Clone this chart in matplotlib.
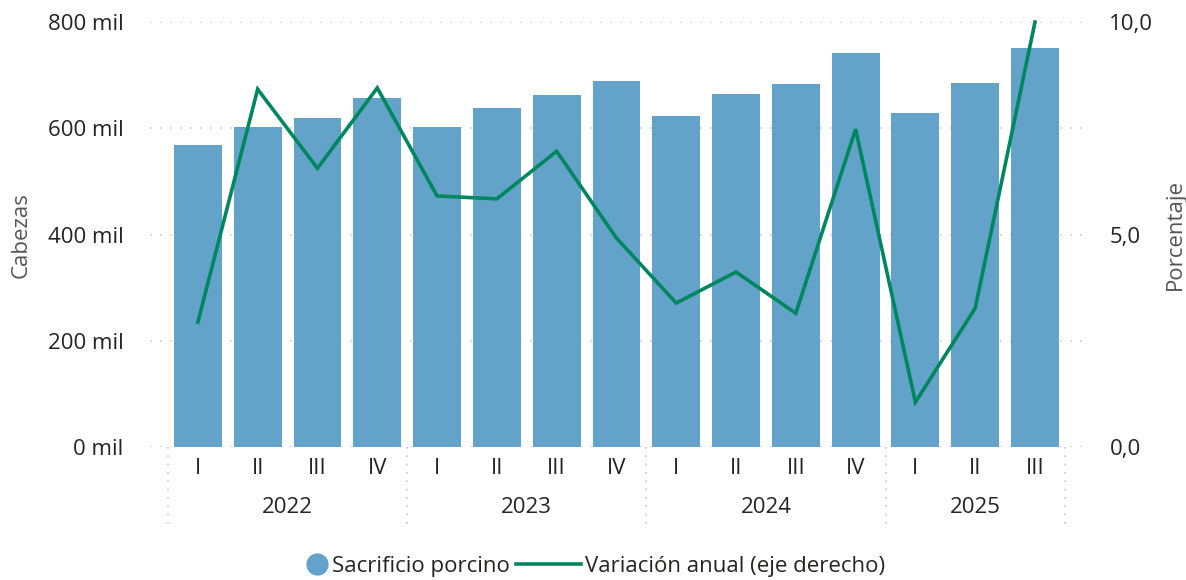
import matplotlib
matplotlib.use("Agg")
from matplotlib import pyplot as plt
from matplotlib.lines import Line2D
from matplotlib.legend_handler import HandlerLine2D
import matplotlib.transforms as mtransforms

plt.rcParams['font.family'] = ['Open Sans', 'DejaVu Sans']

years = ['2022', '2023', '2024', '2025']
quarters = ['I', 'II', 'III', 'IV', 'I', 'II', 'III', 'IV',
            'I', 'II', 'III', 'IV', 'I', 'II', 'III']
quarters_per_year = [4, 4, 4, 3]
sacrificio = [568, 602, 619, 657, 602, 638, 663, 689,
              623, 664, 683, 742, 629, 685, 751]  # miles de cabezas
variacion = [2.94, 8.42, 6.56, 8.45, 5.91, 5.84, 6.96, 4.92,
             3.39, 4.12, 3.15, 7.48, 1.06, 3.27, 10.0]  # %

bar_color = '#64a3c9'
line_color = '#00875f'
text_color = '#252423'
label_color = '#555555'
fs = 16


class RightMarker(HandlerLine2D):
    # draw the circle at the right end of the handle box
    def create_artists(self, legend, orig_handle, xdescent, ydescent,
                       width, height, fontsize, trans):
        m = Line2D([-xdescent + width - 7.5], [(height - ydescent) / 2])
        self.update_prop(m, orig_handle, legend)
        m.set_transform(trans)
        return [m]


fig = plt.figure(figsize=(11.86, 5.8), dpi=100)
ax = fig.add_axes([0.1265, 0.229, 0.7855, 0.733])
ax2 = ax.twinx()

x = list(range(len(quarters)))
ax.bar(x, sacrificio, width=0.8, color=bar_color, zorder=2)
ax2.plot(x, variacion, color=line_color, linewidth=2.6, clip_on=False, zorder=3,
         solid_joinstyle='miter')

ax.set_xlim(-0.8, 14.78)
ax.set_ylim(0, 800)
ax2.set_ylim(0, 10)
ax.set_yticks([0, 200, 400, 600, 800])
ax.set_yticklabels([f'{v} mil' for v in [0, 200, 400, 600, 800]])
ax2.set_yticks([0, 5, 10])
ax2.set_yticklabels(['0,0', '5,0', '10,0'])

ax.grid(axis='y', linestyle=(0, (1, 5)), color='#c8c8c8', linewidth=1.2, zorder=0)
ax.set_axisbelow(True)

for a in (ax, ax2):
    for s in a.spines.values():
        s.set_visible(False)
    a.tick_params(length=0, labelsize=fs, colors=text_color)
ax.tick_params(axis='y', pad=19)
ax2.tick_params(axis='y', pad=20)

ax.set_xticks(x)
ax.set_xticklabels(quarters)
ax.tick_params(axis='x', pad=8)

ax.set_ylabel('Cabezas', fontsize=fs, color=label_color, labelpad=12)
ax2.set_ylabel('Porcentaje', fontsize=fs, color=label_color, labelpad=8)

# year labels and group separators
trans = mtransforms.blended_transform_factory(ax.transData, ax.transAxes)
start = 0
bounds = [-0.5]
for yr, n in zip(years, quarters_per_year):
    center = start + (n - 1) / 2
    ax.text(center, -0.142, yr, transform=trans, ha='center', va='center',
            fontsize=fs, color=text_color)
    start += n
    bounds.append(start - 0.5)
for b in bounds:
    ax.plot([b, b], [0, -0.188], transform=trans, clip_on=False,
            color='#c8c8c8', linestyle=(0, (1, 4)), linewidth=1.2)

h_bar = Line2D([], [], marker='o', linestyle='none', markersize=15,
               markerfacecolor=bar_color, markeredgecolor=bar_color)
h_line = Line2D([], [], color=line_color, linewidth=2.6)
fig.legend([h_bar, h_line], ['Sacrificio porcino', 'Variación anual (eje derecho)'],
           loc='center', bbox_to_anchor=(0.484, 0.024), ncol=2, frameon=False,
           fontsize=fs, handlelength=2.9, handletextpad=0.2, columnspacing=0.3,
           labelcolor=text_color, borderpad=0,
           handler_map={h_bar: RightMarker()})

fig.savefig('out.png', dpi=100)
